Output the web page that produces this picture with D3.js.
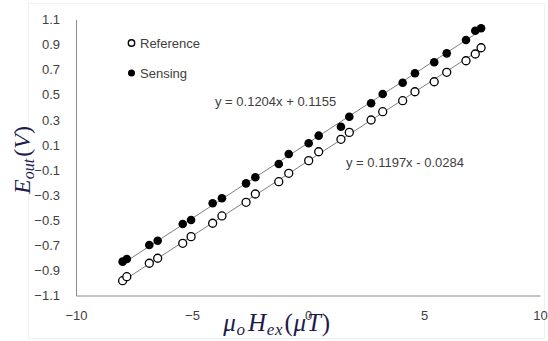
<!DOCTYPE html>
<html>
<head>
<meta charset="utf-8">
<script src="https://cdn.jsdelivr.net/npm/d3@7"></script>
<style>
  body { margin: 0; background: #fff; }
  text { font-family: "Liberation Sans", Arial, sans-serif; }
  text.math { font-family: "Liberation Serif", "DejaVu Serif", serif; }
</style>
</head>
<body>
<div id="chart"></div>
<script>
var w = 548;
var h = 341;

// field values (uT)
var xVals = [-7.99, -7.81, -6.84, -6.48, -5.40, -5.04, -4.11, -3.71, -2.67, -2.27,
             -1.26, -0.83, 0.03, 0.46, 1.42, 1.78, 2.72, 3.22, 4.08, 4.61,
             5.44, 5.98, 6.81, 7.21, 7.46];
var refVals = [-0.982, -0.950, -0.843, -0.803, -0.684, -0.631, -0.524, -0.466, -0.357, -0.291,
               -0.193, -0.126, -0.025, 0.046, 0.145, 0.200, 0.299, 0.365, 0.453, 0.524,
               0.604, 0.679, 0.771, 0.825, 0.875];
var senVals = [-0.830, -0.809, -0.697, -0.663, -0.530, -0.498, -0.365, -0.325, -0.206, -0.158,
               -0.052, 0.028, 0.113, 0.174, 0.245, 0.325, 0.432, 0.506, 0.596, 0.671,
               0.759, 0.830, 0.936, 1.010, 1.030];
var xTicks = [-10, -5, 0, 5, 10];
var yTicks = [-1.1, -0.9, -0.7, -0.5, -0.3, -0.1, 0.1, 0.3, 0.5, 0.7, 0.9, 1.1];
// trend lines [slope, intercept]
var refFit = [0.1197, -0.0284];
var senFit = [0.1204, 0.1155];

var svg = d3.select("#chart").append("svg")
            .attr("width", w)
            .attr("height", h);

// faint chart area border
svg.append("rect")
   .attr("x", 28.5).attr("y", 3.5)
   .attr("width", 516).attr("height", 335)
   .attr("fill", "none")
   .attr("stroke", "#f0f0f0");

var x = d3.scaleLinear().domain([-10, 10]).range([76, 540]);
var y = d3.scaleLinear().domain([-1.1, 1.1]).range([295.5, 19.5]);

var yAxis = svg.append("g")
   .attr("transform", "translate(76,0)")
   .call(d3.axisLeft(y).tickValues(yTicks).tickSize(0).tickPadding(16)
         .tickFormat(d3.format(".1f")));
var xAxis = svg.append("g")
   .attr("transform", "translate(0,295.5)")
   .call(d3.axisBottom(x).tickValues(xTicks).tickSize(0).tickPadding(15));

[xAxis, yAxis].forEach(function(g) {
	g.select(".domain").attr("stroke", "#8c8c8c");
	g.selectAll("text")
	 .attr("font-size", 13)
	 .attr("fill", "#404040");
});

// trend lines over the data range
var xExt = d3.extent(xVals);
[refFit, senFit].forEach(function(f) {
	svg.append("line")
	   .attr("x1", x(xExt[0])).attr("y1", y(f[0] * xExt[0] + f[1]))
	   .attr("x2", x(xExt[1])).attr("y2", y(f[0] * xExt[1] + f[1]))
	   .attr("stroke", "#7f7f7f")
	   .attr("stroke-width", 1);
});

svg.append("g").selectAll("circle")
   .data(xVals)
   .enter().append("circle")
   .attr("cx", d => x(d))
   .attr("cy", (d, i) => y(refVals[i]))
   .attr("r", 4)
   .attr("fill", "#fff")
   .attr("stroke", "#000")
   .attr("stroke-width", 1.3);

svg.append("g").selectAll("circle")
   .data(xVals)
   .enter().append("circle")
   .attr("cx", d => x(d))
   .attr("cy", (d, i) => y(senVals[i]))
   .attr("r", 4.3)
   .attr("fill", "#000");

// equations
svg.append("text")
   .attr("x", 215).attr("y", 106)
   .attr("font-size", 13).attr("fill", "#404040")
   .text("y = 0.1204x + 0.1155");
svg.append("text")
   .attr("x", 346).attr("y", 167)
   .attr("font-size", 13).attr("fill", "#404040")
   .text("y = 0.1197x - 0.0284");

// legend
svg.append("circle").attr("cx", 131.5).attr("cy", 43).attr("r", 3.2)
   .attr("fill", "#fff").attr("stroke", "#000").attr("stroke-width", 1.4);
svg.append("circle").attr("cx", 131.5).attr("cy", 73).attr("r", 3.5)
   .attr("fill", "#000");
svg.append("text").attr("x", 140).attr("y", 47.5)
   .attr("font-size", 13).attr("fill", "#404040").text("Reference");
svg.append("text").attr("x", 140).attr("y", 77.5)
   .attr("font-size", 13).attr("fill", "#404040").text("Sensing");

// axis titles
var titleCol = "#1c1c4c";
var xt = svg.append("text")
   .attr("class", "math")
   .attr("x", 277).attr("y", 331)
   .attr("text-anchor", "middle")
   .attr("font-size", 25)
   .attr("letter-spacing", 0.8)
   .attr("fill", titleCol);
xt.append("tspan").attr("font-style", "italic").text("μ");
xt.append("tspan").attr("font-style", "italic").attr("font-size", 17).attr("dy", 4).text("o");
xt.append("tspan").attr("font-style", "italic").attr("dy", -4).attr("dx", 2).text("H");
xt.append("tspan").attr("font-style", "italic").attr("font-size", 17).attr("dy", 4).text("ex");
xt.append("tspan").attr("dy", -4).attr("dx", 1).text("(");
xt.append("tspan").attr("font-style", "italic").text("μT");
xt.append("tspan").text(")");

var yt = svg.append("text")
   .attr("class", "math")
   .attr("transform", "translate(30,160) rotate(-90)")
   .attr("text-anchor", "middle")
   .attr("font-size", 24)
   .attr("fill", titleCol);
yt.append("tspan").attr("font-style", "italic").text("E");
yt.append("tspan").attr("font-style", "italic").attr("font-size", 16).attr("dy", 4).text("out");
yt.append("tspan").attr("dy", -4).attr("dx", 2).text("(");
yt.append("tspan").attr("font-style", "italic").text("V");
yt.append("tspan").text(")");
</script>
</body>
</html>
